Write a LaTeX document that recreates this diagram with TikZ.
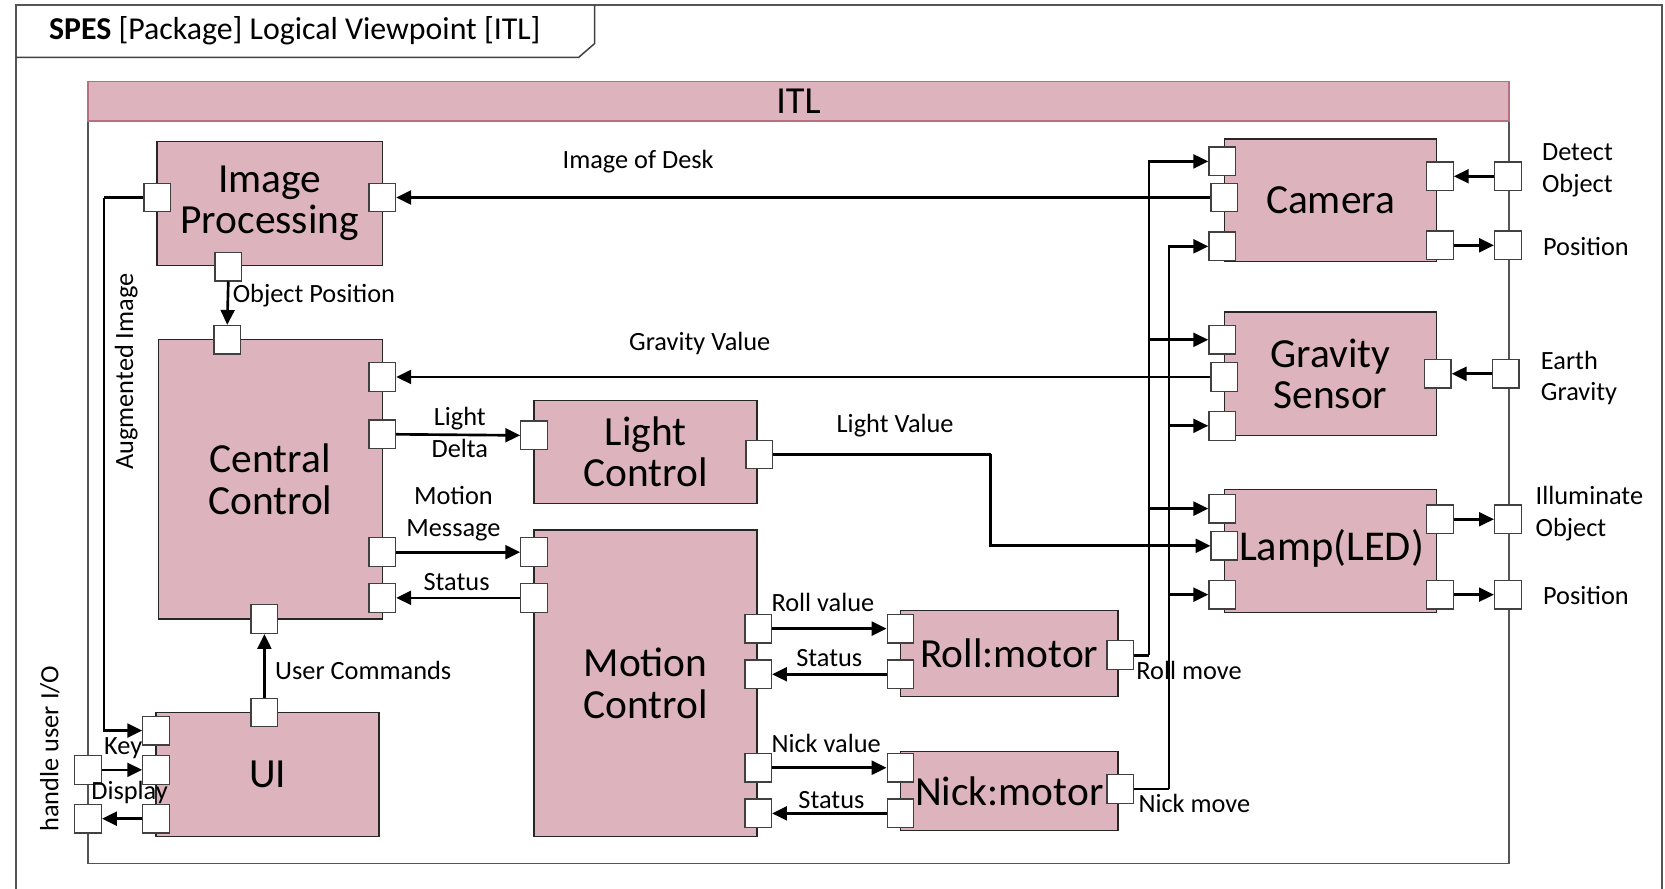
\documentclass[tikz,border=0pt]{standalone}
\usepackage{fontspec}
\setmainfont{Carlito}
\usetikzlibrary{arrows.meta,calc}
\definecolor{boxpink}{HTML}{DDB4BD}
\definecolor{barborder}{HTML}{B87080}
\definecolor{framegray}{HTML}{555555}
\tikzset{
  blk/.style={draw=black!85, line width=1.3pt, fill=boxpink, inner sep=0pt, align=center,
    font=\fontsize{39}{39}\selectfont},
  port/.style={draw=black!75, line width=1.2pt, fill=white, minimum width=25pt, minimum height=27pt, inner sep=0pt},
  wire/.style={line width=2.5pt, black},
  arr/.style={wire, -{Triangle[length=14pt,width=13pt]}},
  lbl/.style={font=\fontsize{24.8}{30}\selectfont, inner sep=0pt, align=center},
  lbll/.style={font=\fontsize{24.8}{30}\selectfont, inner sep=0pt, align=left, anchor=west},
}
\begin{document}
\begin{tikzpicture}[x=1pt,y=-1pt]
\useasboundingbox (0,0) rectangle (1568,837);
\fill[white] (0,0) rectangle (1568,837);
% outer frame
\draw[framegray, line width=1.5pt] (15,845) -- (15,4.5) -- (1565,4.5) -- (1565,845);
\draw[black!75, line width=1.4pt] (15,54) -- (545,54) -- (560,41) -- (560,4.5);
\node[anchor=west, inner sep=0pt, font=\fontsize{30}{32}\selectfont] (hdr) at (46,29) {\textbf{SPES} [Package] Logical Viewpoint [ITL]};
% ITL box
\draw[framegray, line width=1.3pt] (83,77) rectangle (1421,813);
\node[draw=barborder, line width=1.3pt, fill=boxpink, minimum width=1338pt, minimum height=37pt, inner sep=0pt,
  font=\fontsize{36}{36}\selectfont] (itl) at (752,95.5) {ITL};

% blocks
\node[blk, minimum width=212pt, minimum height=117pt] (ip) at (254,191.5) {Image\\Processing};
\node[blk, minimum width=211pt, minimum height=263pt] (cc) at (254.5,451.5) {Central\\Control};
\node[blk, minimum width=210pt, minimum height=117pt] (ui) at (252,729.5) {UI};
\node[blk, minimum width=210pt, minimum height=97pt] (lc) at (608,425.5) {Light\\Control};
\node[blk, minimum width=210pt, minimum height=289pt] (mc) at (608,643.5) {Motion\\Control};
\node[blk, minimum width=205pt, minimum height=81pt] (roll) at (950.5,615.5) {Roll:motor};
\node[blk, minimum width=205pt, minimum height=74pt] (nick) at (950.5,745) {Nick:motor};
\node[blk, minimum width=200pt, minimum height=115pt] (cam) at (1253,188.5) {Camera};
\node[blk, minimum width=200pt, minimum height=116pt] (grav) at (1253,352) {Gravity\\Sensor};
\node[blk, minimum width=200pt, minimum height=116pt] (lamp) at (1253,519) {};
\node[font=\fontsize{40}{40}\selectfont, inner sep=0pt] (lamptxt) at (1254,516) {Lamp(LED)};

% ports
\node[port] (ipL) at (148,186) {};
\node[port] (ipR) at (360,186) {};
\node[port] (ipB) at (215,251) {};
\node[port] (ccT) at (214,320) {};
\node[port] (ccR1) at (360,355) {};
\node[port] (ccR2) at (360,409) {};
\node[port] (ccR3) at (360,520) {};
\node[port] (ccR4) at (360,563) {};
\node[port] (ccB) at (249,583) {};
\node[port] (uiT) at (249,671) {};
\node[port] (ui1) at (147,688) {};
\node[port] (ui2) at (147,725) {};
\node[port] (ui3) at (147,771) {};
\node[port] (bKey) at (83,725) {};
\node[port] (bDisp) at (83,771) {};
\node[port] (lcL) at (503,410) {};
\node[port] (lcR) at (715,428) {};
\node[port] (mcL1) at (503,520) {};
\node[port] (mcL2) at (503,563) {};
\node[port] (mcR1) at (714,592) {};
\node[port] (mcR2) at (714,635) {};
\node[port] (mcR3) at (714,723) {};
\node[port] (mcR4) at (714,766) {};
\node[port] (rollL1) at (848,592) {};
\node[port] (rollL2) at (848,635) {};
\node[port] (rollR) at (1055,617) {};
\node[port] (nickL1) at (848,723) {};
\node[port] (nickL2) at (848,766) {};
\node[port] (nickR) at (1055,743) {};
\node[port] (cam1) at (1151,152) {};
\node[port] (cam2) at (1153,186) {};
\node[port] (cam3) at (1151,232) {};
\node[port] (camR1) at (1356,166) {};
\node[port] (camR2) at (1356,231) {};
\node[port] (bCam1) at (1420,166) {};
\node[port] (bCam2) at (1420,231) {};
\node[port] (grav1) at (1151,320) {};
\node[port] (grav2) at (1153,355) {};
\node[port] (grav3) at (1151,401) {};
\node[port] (gravR) at (1354,352) {};
\node[port] (bGrav) at (1418,352) {};
\node[port] (lamp1) at (1151,479) {};
\node[port] (lamp2) at (1153,514) {};
\node[port] (lamp3) at (1151,560) {};
\node[port] (lampR1) at (1356,489) {};
\node[port] (lampR2) at (1356,560) {};
\node[port] (bLamp1) at (1420,489) {};
\node[port] (bLamp2) at (1420,560) {};

% junction coordinates
\coordinate (aj) at (98,186);
\coordinate (lj) at (933,428);
\coordinate (rj) at (1082,617);
\coordinate (nj) at (1101,743);

% connectors
\draw[arr] (cam2.west) -- (ipR.east);
\draw[arr] (ipB.south) -- (ccT.north);
\draw[arr] (grav2.west) -- (ccR1.east);
\draw[arr] (ccR2.east) -- (lcL.west);
\draw[arr] (ccR3.east) -- (mcL1.west);
\draw[arr] (mcL2.west) -- (ccR4.east);
\draw[arr] (uiT.north) -- (ccB.south);
\draw[wire] (ipL.west) -- (aj);
\draw[arr] (aj) |- (ui1.west);
\draw[arr] (bKey.east) -- (ui2.west);
\draw[arr] (ui3.west) -- (bDisp.east);
\draw[wire] (lcR.east) -- (lj);
\draw[arr] (lj) |- (lamp2.west);
\draw[arr] (mcR1.east) -- (rollL1.west);
\draw[arr] (rollL2.west) -- (mcR2.east);
\draw[arr] (mcR3.east) -- (nickL1.west);
\draw[arr] (nickL2.west) -- (mcR4.east);
\draw[wire] (rollR.east) -- (rj);
\draw[arr] (rj) |- (cam1.west);
\draw[arr] (rj) |- (grav1.west);
\draw[arr] (rj) |- (lamp1.west);
\draw[wire] (nickR.east) -- (nj);
\draw[arr] (nj) |- (cam3.west);
\draw[arr] (nj) |- (grav3.west);
\draw[arr] (nj) |- (lamp3.west);
\draw[arr] (bCam1.west) -- (camR1.east);
\draw[arr] (camR2.east) -- (bCam2.west);
\draw[arr] (bGrav.west) -- (gravR.east);
\draw[arr] (lampR1.east) -- (bLamp1.west);
\draw[arr] (lampR2.east) -- (bLamp2.west);

% labels
\node[lbl] (tDesk) at (601,152) {Image of Desk};
\node[lbll] (tObj) at (219,278) {Object Position};
\node[lbl] (tGrav) at (659,323) {Gravity Value};
\node[lbl] (tLD) at (433,407.5) {Light\\Delta};
\node[lbl] (tMM) at (427,484) {Motion\\Message};
\node[lbl] (tSt1) at (430,548) {Status};
\node[lbll] (tUC) at (259,631) {User Commands};
\node[lbl, rotate=90] (tAug) at (119,350) {Augmented Image};
\node[lbl] (tKey) at (116,705) {Key};
\node[lbl] (tDisp) at (122,746) {Display};
\node[lbl, rotate=90] (tHUI) at (47,705) {handle user I/O};
\node[lbl] (tLV) at (843,401) {Light Value};
\node[lbl] (tRV) at (775,567) {Roll value};
\node[lbl] (tSt2) at (781,620) {Status};
\node[lbl] (tNV) at (778,700) {Nick value};
\node[lbl] (tSt3) at (783,753) {Status};
\node[lbll] (tRM) at (1070,631) {Roll move};
\node[lbll] (tNM) at (1072,757) {Nick move};
\node[lbll] (tDO) at (1452,160) {Detect\\Object};
\node[lbll] (tP1) at (1453,232) {Position};
\node[lbll] (tEG) at (1451,356) {Earth\\Gravity};
\node[lbll] (tIO) at (1446,484) {Illuminate\\Object};
\node[lbll] (tP2) at (1453,561) {Position};
\end{tikzpicture}
\end{document}
